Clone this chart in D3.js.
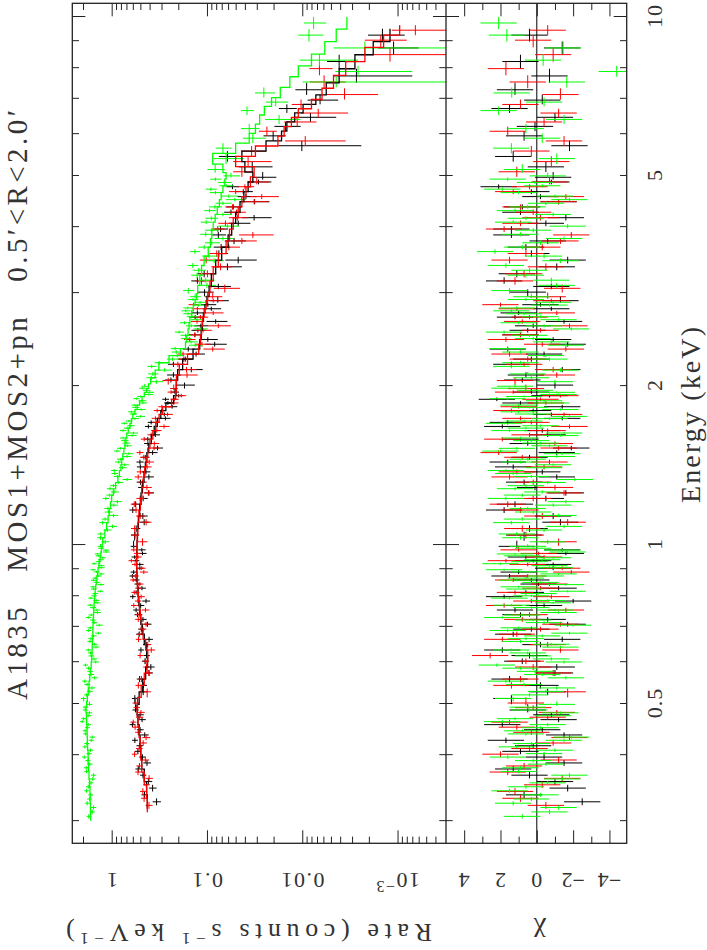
<!DOCTYPE html>
<html><head><meta charset="utf-8">
<script src="https://cdn.jsdelivr.net/npm/d3@7"></script>
<style>body{margin:0;background:#fff}svg{display:block}text{font-family:"Liberation Serif","Times New Roman","DejaVu Serif",serif;fill:#333;white-space:pre}</style>
</head><body>
<svg id="c" width="707" height="950" font-family="Liberation Serif, DejaVu Serif, serif"></svg>
<script>
// ---------------- DATA ----------------
// MOS1 (black): main bins (also used for the model histogram)
const mos1E = [0.325,0.345,0.365,0.385,0.405,0.425,0.445,0.465,0.485,
0.510,0.540,0.570,0.600,0.630,0.660,0.690,0.720,0.750,0.780,0.810,0.840,0.870,0.900,0.930,0.960,0.990,
1.04,1.10,1.16,1.22,1.28,1.34,1.40,1.46,1.52,1.58,1.64,1.70,1.76,1.82,1.88,1.94,
2.00,2.09,2.19,2.29,2.39,2.49,2.59,2.69,2.79,2.89,
3.00,3.15,3.35,3.55,3.75,3.95,4.15,4.35,4.55,4.75,4.95,
5.18,5.42,5.68,5.93,6.18,6.43,6.68,6.93,
7.25,7.70,8.20,8.70,9.20];
const mos1Rate = [0.338,0.372,0.469,0.426,0.531,0.571,0.503,0.480,0.562,
0.572,0.464,0.405,0.447,0.493,0.405,0.489,0.470,0.554,0.436,0.554,0.533,0.607,0.506,0.556,0.475,0.589,
0.574,0.456,0.601,0.468,0.480,0.407,0.500,0.444,0.330,0.418,0.347,0.385,0.280,0.232,0.272,0.217,
0.172,0.225,0.225,0.130,0.083,0.134,0.116,0.133,0.090,0.077,
0.106,0.126,0.061,0.075,0.052,0.072,0.032,0.053,0.039,0.054,0.026,
0.0335,0.061,0.0101,0.0202,0.0150,0.0082,0.0145,0.0065,
0.0090,0.0027,0.0041,0.0011,0.00144];
const mos1Err = [0.034,0.034,0.036,0.039,0.040,0.040,0.041,0.042,0.043,
0.041,0.038,0.035,0.034,0.034,0.036,0.038,0.040,0.040,0.041,0.042,0.043,0.043,0.044,0.044,0.044,0.043,
0.054,0.053,0.051,0.049,0.048,0.046,0.044,0.043,0.041,0.038,0.036,0.033,0.031,0.027,0.022,0.021,
0.038,0.037,0.032,0.025,0.021,0.021,0.020,0.020,0.019,0.018,
0.021,0.020,0.018,0.015,0.013,0.012,0.011,0.010,0.009,0.0081,0.0073,
0.013,0.014,0.0077,0.0053,0.0046,0.0038,0.0031,0.0023,
0.0028,0.002,0.0014,0.0005,0.0006];
const mos1Model = [0.423,0.430,0.455,0.484,0.495,0.503,0.515,0.530,0.540,
0.515,0.472,0.440,0.420,0.428,0.455,0.478,0.494,0.506,0.518,0.529,0.537,0.542,0.546,0.547,0.545,0.542,
0.536,0.525,0.509,0.492,0.475,0.458,0.443,0.427,0.408,0.384,0.358,0.332,0.305,0.270,0.224,0.211,
0.210,0.203,0.180,0.140,0.119,0.115,0.112,0.109,0.105,0.100,
0.095,0.090,0.081,0.070,0.060,0.055,0.050,0.045,0.041,0.037,0.033,
0.040,0.043,0.024,0.0165,0.0145,0.012,0.0098,0.0072,
0.0056,0.0041,0.0028,0.0018,0.0012];
const mos1Chi = [-2.5,-1.7,0.4,-1.5,0.9,1.7,-0.3,-1.2,0.5,
1.4,-0.2,-1.0,0.8,1.9,-1.4,0.3,-0.6,1.2,-2.0,0.6,-0.1,1.5,-0.9,0.2,-1.6,1.1,
0.7,-1.3,1.8,-0.5,0.1,-1.1,1.3,0.4,-1.9,0.9,-0.3,1.6,-0.8,-1.4,2.2,0.3,
-1.0,0.6,1.4,-0.4,-1.7,0.9,0.2,1.2,-0.8,-1.3,
0.5,1.8,-1.1,0.3,-0.6,1.4,-1.6,0.8,-0.2,2.1,-0.9,
-0.5,1.3,-1.8,0.7,0.1,-1.0,1.5,-0.3,
1.2,-0.7,0.9,-1.4,0.4];
// MOS1 additional bins
const mos1ExtraE = [0.335,0.355,0.375,0.395,0.415,0.435,0.455,0.475,
0.525,0.555,0.585,0.615,0.645,0.675,0.705,0.735,0.765,0.795,0.825,0.855,0.885,0.915,0.945,0.975,
1.07,1.13,1.19,1.25,1.31,1.37,1.43,1.49,1.55,1.61,1.67,1.73,1.79,1.85,1.91,
2.045,2.14,2.24,2.34,2.44,2.54,2.64,2.74,2.84,
3.075,3.25,3.45,3.65,3.85,4.05,4.25,4.45,4.65,4.85];
const mos1ExtraRate = [0.452,0.412,0.526,0.476,0.509,0.450,0.606,0.503,
0.467,0.509,0.388,0.431,0.433,0.516,0.421,0.536,0.496,0.601,0.481,0.553,0.588,0.507,0.573,0.483,
0.553,0.471,0.560,0.407,0.499,0.437,0.505,0.372,0.417,0.348,0.412,0.273,0.298,0.257,0.198,
0.239,0.146,0.169,0.157,0.098,0.1245,0.081,0.126,0.098,
0.076,0.107,0.047,0.071,0.076,0.047,0.056,0.0316,0.0416,0.0288];
const mos1ExtraErr = [0.034,0.036,0.038,0.039,0.040,0.041,0.042,0.043,
0.039,0.036,0.034,0.033,0.035,0.037,0.039,0.040,0.041,0.042,0.043,0.043,0.044,0.044,0.044,0.043,
0.053,0.052,0.050,0.048,0.047,0.045,0.044,0.042,0.040,0.037,0.035,0.032,0.029,0.024,0.021,
0.038,0.035,0.029,0.022,0.021,0.021,0.020,0.019,0.018,
0.020,0.019,0.017,0.014,0.013,0.012,0.010,0.0095,0.0086,0.0077];
const mos1ExtraChi = [0.7,-1.0,1.3,-0.4,0.2,-1.5,1.9,-0.8,
-0.6,1.5,-1.1,0.4,-0.2,1.3,-1.7,0.9,-0.4,1.8,-1.2,0.3,1.0,-0.9,0.6,-1.4,
0.4,-0.9,1.2,-1.6,0.7,-0.3,1.6,-1.1,0.5,-0.6,1.9,-1.4,0.2,0.9,-0.7,
0.8,-1.4,0.3,1.6,-0.9,0.5,-1.5,1.0,-0.2,
-0.8,1.1,-1.7,0.6,1.4,-0.5,0.9,-1.2,0.3,-0.8];

// MOS2 (red)
const mos2E = [0.320,0.340,0.360,0.380,0.400,0.420,0.440,0.460,0.480,0.500,
0.525,0.555,0.585,0.615,0.645,0.675,0.705,0.735,0.765,0.795,0.825,0.855,0.885,0.915,0.945,0.975,
1.01,1.07,1.13,1.19,1.25,1.31,1.37,1.43,1.49,1.55,1.61,1.67,1.73,1.79,1.85,1.91,1.97,
2.04,2.14,2.24,2.34,2.44,2.54,2.64,2.74,2.84,2.94,
3.05,3.25,3.45,3.65,3.85,4.05,4.25,4.45,4.65,4.85,
5.07,5.30,5.55,5.80,6.05,6.30,6.55,6.80,
7.10,7.50,7.95,8.45,9.00,9.40];
const mos2Rate = [0.406,0.471,0.405,0.511,0.575,0.467,0.527,0.593,0.493,0.561,
0.424,0.487,0.432,0.503,0.419,0.509,0.436,0.516,0.586,0.491,0.524,0.596,0.460,0.569,0.529,0.586,
0.475,0.574,0.502,0.580,0.412,0.475,0.500,0.404,0.506,0.357,0.385,0.282,0.347,0.333,0.223,0.186,0.223,
0.255,0.164,0.175,0.087,0.153,0.110,0.127,0.086,0.138,0.087,
0.065,0.099,0.102,0.059,0.033,0.064,0.049,0.032,0.050,0.030,
0.043,0.037,0.034,0.0093,0.0235,0.0113,0.0068,0.0103,
0.0036,0.0059,0.0066,0.0012,0.0015,0.00065];
const mos2Err = [0.034,0.034,0.036,0.039,0.040,0.040,0.041,0.042,0.043,0.043,
0.039,0.036,0.034,0.033,0.035,0.037,0.039,0.040,0.041,0.042,0.043,0.043,0.044,0.044,0.044,0.043,
0.054,0.053,0.052,0.050,0.048,0.047,0.045,0.044,0.042,0.040,0.037,0.035,0.032,0.029,0.024,0.021,0.021,
0.038,0.035,0.029,0.022,0.021,0.021,0.020,0.019,0.018,0.018,
0.020,0.019,0.017,0.014,0.013,0.012,0.010,0.0095,0.0086,0.0077,
0.010,0.016,0.010,0.0058,0.005,0.0042,0.0035,0.0026,
0.002,0.0024,0.0018,0.0011,0.0007,0.0005];
const mos2Model = [0.423,0.430,0.455,0.484,0.495,0.503,0.515,0.530,0.540,0.535,
0.490,0.455,0.425,0.418,0.440,0.468,0.487,0.500,0.512,0.525,0.533,0.540,0.544,0.547,0.547,0.543,
0.540,0.532,0.518,0.500,0.484,0.466,0.450,0.435,0.418,0.397,0.370,0.345,0.318,0.292,0.235,0.213,0.210,
0.209,0.195,0.160,0.122,0.117,0.114,0.111,0.107,0.102,0.098,
0.093,0.086,0.076,0.063,0.058,0.053,0.047,0.043,0.039,0.035,
0.032,0.050,0.031,0.018,0.0155,0.013,0.011,0.008,
0.0062,0.0047,0.0035,0.0022,0.0014,0.00095];
const mos2Chi = [-0.5,1.2,-1.4,0.7,2.0,-0.9,0.3,1.5,-1.1,0.6,
-1.7,0.9,0.2,2.57,-0.6,1.1,-1.3,0.4,1.8,-0.8,-0.2,1.3,-1.9,0.5,-0.4,1.0,
-1.2,0.8,-0.3,1.6,-1.5,0.2,1.1,-0.7,2.1,-1.0,0.4,-1.8,0.9,1.4,-0.5,-1.3,0.6,
1.2,-0.9,0.5,-1.6,1.7,-0.2,0.8,-1.1,2.0,-0.6,
-1.4,0.7,1.5,-0.3,-1.9,0.9,0.2,-1.2,1.3,-0.7,
1.1,-0.8,0.3,-1.5,1.6,-0.4,-1.2,0.9,
-1.3,0.5,1.7,-0.9,0.2,-0.6];
const mos2ExtraE = [0.330,0.350,0.370,0.390,0.410,0.430,0.450,0.470,0.490,
0.540,0.570,0.600,0.630,0.660,0.690,0.720,0.750,0.780,0.810,0.840,0.870,0.900,0.930,0.960,
1.04,1.10,1.16,1.22,1.28,1.34,1.40,1.46,1.52,1.58,1.64,1.70,1.76,1.82,1.88,1.94,
2.09,2.19,2.29,2.39,2.49,2.59,2.69,2.79,2.89,
3.15,3.35,3.55,3.75,3.95,4.15,4.35,4.55,4.75];
const mos2ExtraRate = [0.457,0.432,0.529,0.443,0.515,0.435,0.568,0.509,0.547,
0.525,0.408,0.440,0.384,0.523,0.470,0.526,0.442,0.530,0.579,0.507,0.564,0.484,0.622,0.541,
0.568,0.435,0.555,0.502,0.427,0.527,0.425,0.461,0.359,0.456,0.336,0.342,0.259,0.297,0.220,0.238,
0.162,0.202,0.178,0.113,0.134,0.076,0.117,0.126,0.086,
0.114,0.072,0.079,0.043,0.077,0.048,0.054,0.0266,0.040];
const mos2ExtraErr = [0.034,0.035,0.037,0.039,0.040,0.041,0.042,0.043,0.043,
0.038,0.035,0.034,0.034,0.036,0.038,0.040,0.040,0.041,0.042,0.043,0.043,0.044,0.044,0.044,
0.054,0.053,0.051,0.049,0.048,0.046,0.044,0.043,0.041,0.038,0.036,0.033,0.031,0.027,0.022,0.021,
0.037,0.032,0.025,0.021,0.021,0.020,0.020,0.019,0.018,
0.020,0.018,0.015,0.013,0.012,0.011,0.010,0.009,0.0081];
const mos2ExtraChi = [0.9,-0.3,1.6,-1.2,0.4,-1.8,1.1,-0.6,0.2,
1.4,-0.9,0.6,-1.3,1.9,-0.2,0.8,-1.6,0.3,1.2,-0.7,0.5,-1.4,1.7,-0.1,
0.6,-1.7,0.9,0.2,-1.0,1.5,-0.4,0.8,-1.2,1.9,-0.6,0.3,-1.5,1.0,-0.2,1.3,
-1.1,0.7,1.5,-0.3,0.9,-1.8,0.4,1.1,-0.8,
1.2,-0.5,0.6,-1.3,1.8,-0.2,0.9,-1.6,0.4];

// pn (green)
const pnE = [0.305,0.317,0.329,0.341,0.353,0.365,0.377,0.389,0.401,0.413,0.425,0.437,0.449,0.461,0.473,0.485,0.497,
0.510,0.526,0.542,0.558,0.574,0.590,0.606,0.622,0.638,0.654,0.670,0.686,0.702,0.718,0.734,0.750,0.766,0.782,0.798,0.814,0.830,0.846,0.862,0.878,0.894,0.910,0.926,0.942,0.958,0.974,0.990,
1.01,1.045,1.08,1.115,1.15,1.185,1.22,1.255,1.29,1.325,1.36,1.395,1.43,1.465,1.50,1.535,1.57,1.605,1.64,1.675,1.71,1.745,1.78,1.815,1.85,1.885,1.92,1.955,1.99,
2.03,2.10,2.17,2.24,2.31,2.38,2.45,2.52,2.59,2.66,2.73,2.80,2.87,2.94,
3.02,3.16,3.30,3.44,3.58,3.72,3.86,4.00,4.14,4.28,4.42,4.56,4.70,4.84,4.98,
5.12,5.37,5.62,5.87,6.12,6.37,6.62,6.87,
7.15,7.50,7.85,8.25,8.70,9.20,9.70];
const pnRate = [1.74,1.55,1.71,1.84,1.65,1.55,1.85,1.78,1.73,1.91,1.64,1.88,1.80,2.04,1.74,1.90,1.71,
1.97,1.70,1.81,1.51,1.68,1.88,1.53,1.67,1.46,1.69,1.55,1.75,1.35,1.58,1.64,1.43,1.68,1.45,1.53,1.32,1.57,1.43,1.49,1.29,1.57,1.29,1.38,1.24,1.41,1.15,1.31,
1.17,1.30,0.98,1.17,1.08,0.95,1.15,0.93,0.96,0.69,0.93,0.77,0.85,0.69,0.88,0.68,0.73,0.61,0.76,0.63,0.66,0.50,0.62,0.56,0.47,0.55,0.41,0.43,0.45,
0.34,0.37,0.38,0.23,0.21,0.133,0.167,0.196,0.146,0.127,0.158,0.159,0.118,0.133,
0.157,0.103,0.122,0.084,0.134,0.089,0.103,0.061,0.090,0.094,0.068,0.059,0.091,0.066,0.056,
0.082,0.063,0.068,0.033,0.036,0.0175,0.038,0.019,
0.0253,0.0044,0.0026,0.0066,0.0022,0.0085,0.0076];
const pnErr = [0.10,0.10,0.10,0.10,0.10,0.10,0.11,0.11,0.11,0.11,0.11,0.11,0.11,0.11,0.11,0.11,0.11,
0.13,0.12,0.12,0.12,0.12,0.11,0.11,0.11,0.11,0.11,0.11,0.11,0.11,0.11,0.11,0.11,0.11,0.11,0.10,0.10,0.10,0.10,0.10,0.10,0.10,0.10,0.09,0.09,0.09,0.09,0.09,
0.11,0.11,0.10,0.10,0.10,0.09,0.09,0.09,0.08,0.08,0.075,0.072,0.071,0.069,0.067,0.065,0.064,0.063,0.060,0.058,0.056,0.054,0.051,0.049,0.046,0.043,0.041,0.039,0.037,
0.051,0.046,0.042,0.033,0.025,0.022,0.021,0.021,0.020,0.020,0.019,0.018,0.017,0.017,
0.021,0.020,0.019,0.018,0.016,0.016,0.015,0.015,0.014,0.013,0.013,0.012,0.012,0.011,0.011,
0.017,0.022,0.013,0.009,0.008,0.007,0.006,0.005,
0.006,0.0055,0.0019,0.004,0.0025,0.0025,0.002];
const pnModel = [1.66,1.67,1.68,1.69,1.71,1.73,1.75,1.76,1.77,1.79,1.80,1.81,1.82,1.83,1.84,1.86,1.83,
1.80,1.76,1.73,1.70,1.67,1.64,1.62,1.61,1.60,1.59,1.58,1.575,1.57,1.56,1.55,1.54,1.53,1.515,1.50,1.49,1.47,1.45,1.43,1.41,1.39,1.36,1.34,1.32,1.30,1.28,1.26,
1.24,1.18,1.13,1.09,1.06,1.03,1.00,0.96,0.91,0.86,0.83,0.80,0.785,0.765,0.745,0.725,0.71,0.695,0.67,0.645,0.62,0.60,0.57,0.54,0.51,0.48,0.455,0.43,0.41,
0.39,0.35,0.32,0.25,0.19,0.168,0.163,0.158,0.154,0.151,0.145,0.139,0.133,0.128,
0.125,0.119,0.114,0.107,0.097,0.092,0.089,0.086,0.082,0.078,0.074,0.071,0.068,0.065,0.063,
0.068,0.087,0.050,0.036,0.031,0.028,0.025,0.021,
0.017,0.0135,0.011,0.008,0.0058,0.0044,0.0034];
const pnChi = [0.8,-1.2,0.3,1.5,-0.6,-1.8,0.9,0.2,-0.4,1.1,-1.5,0.6,-0.2,1.9,-0.9,0.4,-1.1,
1.3,-0.5,0.7,-1.6,0.1,2.2,-0.8,0.5,-1.3,0.9,-0.3,1.6,-2.0,0.2,0.8,-1.0,1.4,-0.6,0.3,-1.7,1.0,-0.2,0.6,-1.2,1.8,-0.7,0.4,-0.9,1.2,-1.4,0.5,
-0.6,1.1,-1.5,0.8,0.2,-0.9,1.7,-0.3,0.6,-2.1,1.3,-0.4,0.9,-1.1,2.0,-0.7,0.3,-1.3,1.5,-0.2,0.7,-1.8,1.0,0.4,-0.8,1.6,-1.2,0.1,1.2,
-1.0,0.5,1.4,-0.7,0.9,-1.6,0.2,1.8,-0.4,-1.2,0.7,1.1,-0.9,0.3,
1.5,-0.8,0.4,-1.3,2.3,-0.2,0.9,-1.7,0.6,1.2,-0.5,-1.0,1.9,0.1,-0.6,
0.8,-1.1,1.4,-0.3,0.6,-1.5,2.1,-0.4,
1.38,-1.65,-4.4,-0.35,-1.45,1.65,2.1];
const pnExtraE = [0.311,0.323,0.335,0.347,0.359,0.371,0.383,0.395,0.407,0.419,0.431,0.443,0.455,0.467,0.479,0.491,
0.518,0.534,0.550,0.566,0.582,0.598,0.614,0.630,0.646,0.662,0.678,0.694,0.710,0.726,0.742,0.758,0.774,0.790,0.806,0.822,0.838,0.854,0.870,0.886,0.902,0.918,0.934,0.950,0.966,0.982,
1.028,1.063,1.098,1.133,1.168,1.203,1.238,1.273,1.308,1.343,1.378,1.413,1.448,1.483,1.518,1.553,1.588,1.623,1.658,1.693,1.728,1.763,1.798,1.833,1.868,1.903,1.938,1.973,
2.065,2.135,2.205,2.275,2.345,2.415,2.485,2.555,2.625,2.695,2.765,2.835,2.905,
3.09,3.23,3.37,3.51,3.65,3.79,3.93,4.07,4.21,4.35,4.49,4.63,4.77,4.91];
const pnExtraRate = [1.60,1.81,1.66,1.76,1.58,1.84,1.70,1.94,1.67,1.83,1.60,1.90,1.76,1.97,1.71,1.90,
1.83,1.61,1.92,1.65,1.75,1.47,1.64,1.76,1.51,1.65,1.38,1.68,1.52,1.76,1.41,1.57,1.42,1.66,1.49,1.55,1.30,1.55,1.37,1.44,1.28,1.53,1.30,1.38,1.14,1.29,
1.31,1.11,1.25,0.955,1.095,0.87,1.05,1.04,0.84,0.87,0.94,0.73,0.81,0.66,0.81,0.705,0.757,0.59,0.69,0.736,0.57,0.595,0.49,0.572,0.477,0.497,0.399,0.477,
0.384,0.278,0.318,0.205,0.216,0.147,0.168,0.118,0.172,0.144,0.167,0.123,0.140,
0.100,0.127,0.141,0.095,0.107,0.068,0.090,0.102,0.068,0.0825,0.051,0.0815,0.063,0.0816];
const pnExtraErr = [0.10,0.10,0.10,0.10,0.10,0.10,0.11,0.11,0.11,0.11,0.11,0.11,0.11,0.11,0.11,0.11,
0.12,0.12,0.12,0.12,0.11,0.11,0.11,0.11,0.11,0.11,0.11,0.11,0.11,0.11,0.11,0.11,0.11,0.10,0.10,0.10,0.10,0.10,0.10,0.10,0.10,0.09,0.09,0.09,0.09,0.09,
0.11,0.11,0.10,0.10,0.10,0.09,0.09,0.085,0.08,0.078,0.074,0.071,0.070,0.068,0.066,0.064,0.063,0.061,0.059,0.057,0.055,0.052,0.050,0.047,0.044,0.042,0.040,0.038,
0.048,0.044,0.037,0.029,0.023,0.022,0.021,0.020,0.020,0.019,0.018,0.018,0.017,
0.020,0.019,0.018,0.017,0.016,0.015,0.015,0.014,0.013,0.013,0.012,0.012,0.011,0.011];
const pnExtraChi = [-0.7,1.3,-0.2,0.6,-1.4,1.0,-0.5,1.6,-1.0,0.3,-1.9,0.8,-0.6,1.2,-1.3,0.5,
0.4,-1.1,1.7,-0.3,0.9,-1.5,0.2,1.4,-0.8,0.6,-1.8,1.0,-0.4,1.9,-1.2,0.3,-0.9,1.5,-0.1,0.7,-1.6,1.1,-0.5,0.4,-1.0,2.0,-0.3,0.8,-1.7,0.2,
0.9,-0.4,1.4,-1.2,0.5,-1.6,0.8,1.2,-0.6,0.3,1.7,-0.9,0.5,-1.4,1.1,-0.2,0.9,-1.5,0.6,1.8,-0.7,0.2,-1.3,1.0,-0.4,0.7,-1.1,1.5,
0.3,-1.3,0.9,-0.5,1.6,-0.8,0.4,-1.9,1.0,-0.2,1.4,-0.7,0.6,
-1.1,0.6,1.7,-0.4,0.8,-1.5,0.2,1.3,-0.9,0.5,-1.8,1.0,-0.3,1.6];

// axis ticks and labels
const energyLabelValues = [0.5, 1, 2, 5, 10];
const energyLabels = ["0.5", "1", "2", "5", "10"];
const energyMajor = [1, 10];
const energyMinor = [0.3,0.4,0.5,0.6,0.7,0.8,0.9,2,3,4,5,6,7,8,9];
const rateMajor = [1, 0.1, 0.01, 0.001];
const rateLabels = ["1", "0.1", "0.01", "10"];
const rateMinor = [2,0.9,0.8,0.7,0.6,0.5,0.4,0.3,0.2,0.09,0.08,0.07,0.06,0.05,0.04,0.03,0.02,
  0.009,0.008,0.007,0.006,0.005,0.004,0.003,0.002,0.0009,0.0008,0.0007,0.0006,0.0005,0.0004];
const chiMajor = [4, 2, 0, -2, -4];
const chiLabels = ["4", "2", "0", "\u22122", "\u22124"];
const chiMinor = [3, 1, -1, -3];
const titleText = "A1835   MOS1+MOS2+pn   0.5\u2032<R<2.0\u2032";

// ---------------- DRAW ----------------
const svg = d3.select("#c");
const FL = 72.3, FR = 626.7, FT = 3.3, FB = 843.3, DIV = 446;
const yE = d3.scaleLog().domain([0.2712, 10.57]).range([FB, FT]);
const xR = d3.scaleLog().domain([2.59, 3.1e-4]).range([FL, DIV]);
const xC = d3.scaleLinear().domain([5, -4.95]).range([DIV, FR]);

const defs = svg.append("defs");
defs.append("clipPath").attr("id","clipTop").append("rect").attr("x",FL).attr("y",FT).attr("width",DIV-FL).attr("height",FB-FT);
defs.append("clipPath").attr("id","clipBot").append("rect").attr("x",DIV).attr("y",FT).attr("width",FR-DIV).attr("height",FB-FT);

function edges(E){
  return E.map((e,i)=>{
    const lo = i>0 ? Math.sqrt(E[i-1]*e) : e*e/Math.sqrt(e*E[i+1]);
    const hi = i<E.length-1 ? Math.sqrt(e*E[i+1]) : e*e/Math.sqrt(E[i-1]*e);
    return [lo,hi];
  });
}
function combine(E, R, Er, C, XE, XR, XEr, XC){
  const rows = E.map((e,i)=>({e, r:R[i], er:Er[i], c:C[i]}))
    .concat(XE.map((e,i)=>({e, r:XR[i], er:XEr[i], c:XC[i]})));
  rows.sort((a,b)=>a.e-b.e);
  const ed = edges(rows.map(d=>d.e));
  rows.forEach((d,i)=>{ d.lo = ed[i][0]; d.hi = ed[i][1]; });
  return rows;
}
const sets = [
  {rows: combine(mos1E,mos1Rate,mos1Err,mos1Chi,mos1ExtraE,mos1ExtraRate,mos1ExtraErr,mos1ExtraChi), mE: mos1E, model: mos1Model, color:"#000000"},
  {rows: combine(mos2E,mos2Rate,mos2Err,mos2Chi,mos2ExtraE,mos2ExtraRate,mos2ExtraErr,mos2ExtraChi), mE: mos2E, model: mos2Model, color:"#ff0000"},
  {rows: combine(pnE,pnRate,pnErr,pnChi,pnExtraE,pnExtraRate,pnExtraErr,pnExtraChi), mE: pnE, model: pnModel, color:"#00ff00"}
];

const gTop = svg.append("g").attr("clip-path","url(#clipTop)");
const gBot = svg.append("g").attr("clip-path","url(#clipBot)");

gBot.append("line").attr("x1",xC(0)).attr("x2",xC(0)).attr("y1",FT).attr("y2",FB)
  .attr("stroke","#000").attr("stroke-width",1);

sets.forEach(s=>{
  let pTop = "", pBot = "";
  s.rows.forEach(d=>{
    const lo = Math.max(d.r-d.er, 1e-5);
    const y = yE(d.e), y0 = yE(d.lo), y1 = yE(d.hi);
    pTop += `M${xR(d.r+d.er)},${y}L${xR(lo)},${y}M${xR(d.r)},${y0}L${xR(d.r)},${y1}`;
    pBot += `M${xC(d.c+1)},${y}L${xC(d.c-1)},${y}M${xC(d.c)},${y0}L${xC(d.c)},${y1}`;
  });
  gTop.append("path").attr("d",pTop).attr("fill","none").attr("stroke",s.color).attr("stroke-width",1);
  gBot.append("path").attr("d",pBot).attr("fill","none").attr("stroke",s.color).attr("stroke-width",1);
});
sets.forEach(s=>{
  const ed = edges(s.mE);
  const pts = [];
  s.mE.forEach((e,i)=>{ pts.push([ed[i][0], s.model[i]]); pts.push([ed[i][1], s.model[i]]); });
  gTop.append("path").datum(pts)
    .attr("d", d3.line().x(d=>xR(d[1])).y(d=>yE(d[0])))
    .attr("fill","none").attr("stroke",s.color).attr("stroke-width",1.3);
});

// ticks
const axCol = "#222";
function ticks(axis, transform){
  const g = svg.append("g").attr("transform",transform).call(axis);
  g.select(".domain").remove();
  g.selectAll("text").remove();
  g.selectAll("line").attr("stroke",axCol).attr("stroke-width",1);
}
const MJ = 13, MN = 6.7;
[[d3.axisRight, FL],[d3.axisLeft, DIV],[d3.axisRight, DIV],[d3.axisLeft, FR]].forEach(([ax,x])=>{
  ticks(ax(yE).tickValues(energyMajor).tickSize(MJ).tickFormat(""), `translate(${x},0)`);
  ticks(ax(yE).tickValues(energyMinor).tickSize(MN).tickFormat(""), `translate(${x},0)`);
});
ticks(d3.axisBottom(xR).tickValues(rateMajor).tickSize(MJ).tickFormat(""), `translate(0,${FT})`);
ticks(d3.axisBottom(xR).tickValues(rateMinor).tickSize(MN).tickFormat(""), `translate(0,${FT})`);
ticks(d3.axisTop(xR).tickValues(rateMajor).tickSize(MJ).tickFormat(""), `translate(0,${FB})`);
ticks(d3.axisTop(xR).tickValues(rateMinor).tickSize(MN).tickFormat(""), `translate(0,${FB})`);
ticks(d3.axisBottom(xC).tickValues(chiMajor).tickSize(MJ).tickFormat(""), `translate(0,${FT})`);
ticks(d3.axisBottom(xC).tickValues(chiMinor).tickSize(MN).tickFormat(""), `translate(0,${FT})`);
ticks(d3.axisTop(xC).tickValues(chiMajor).tickSize(MJ).tickFormat(""), `translate(0,${FB})`);
ticks(d3.axisTop(xC).tickValues(chiMinor).tickSize(MN).tickFormat(""), `translate(0,${FB})`);

svg.append("rect").attr("x",FL).attr("y",FT).attr("width",FR-FL).attr("height",FB-FT)
  .attr("fill","none").attr("stroke",axCol).attr("stroke-width",1.3);
svg.append("line").attr("x1",DIV).attr("x2",DIV).attr("y1",FT).attr("y2",FB)
  .attr("stroke",axCol).attr("stroke-width",1.3);

// labels
energyLabelValues.forEach((v,i)=>{
  svg.append("text").attr("transform",`translate(662,${yE(v)}) rotate(-90)`)
    .attr("text-anchor","middle").attr("font-size",22).attr("letter-spacing",1).text(energyLabels[i]);
});
rateMajor.forEach((v,i)=>{
  const t = svg.append("text").attr("transform",`translate(${xR(v)},873) rotate(180)`)
    .attr("text-anchor","middle").attr("font-size",22).attr("letter-spacing",1.5);
  t.append("tspan").text(rateLabels[i]);
  if (v === 0.001) t.append("tspan").attr("baseline-shift","super").attr("font-size",16).text("\u22123");
});
chiMajor.forEach((v,i)=>{
  svg.append("text").attr("transform",`translate(${xC(v)},873) rotate(180)`)
    .attr("text-anchor","middle").attr("font-size",22).text(chiLabels[i]);
});
svg.append("text").attr("transform","translate(27,700) rotate(-90)")
  .attr("font-size",29).attr("textLength",590).attr("lengthAdjust","spacing").text(titleText);
svg.append("text").attr("transform","translate(700,503) rotate(-90)")
  .attr("font-size",28).attr("textLength",176).attr("lengthAdjust","spacing").text("Energy (keV)");
const rl = svg.append("text").attr("transform","translate(432,924) rotate(180)")
  .attr("font-size",26).attr("textLength",366).attr("lengthAdjust","spacing");
rl.append("tspan").text("Rate (counts s");
rl.append("tspan").attr("baseline-shift","super").attr("font-size",17).text("\u22121");
rl.append("tspan").text(" keV");
rl.append("tspan").attr("baseline-shift","super").attr("font-size",17).text("\u22121");
rl.append("tspan").text(")");
svg.append("text").attr("transform",`translate(${xC(0)+3},924) rotate(180)`)
  .attr("text-anchor","middle").attr("font-size",28).text("\u03c7");
</script>
</body></html>
